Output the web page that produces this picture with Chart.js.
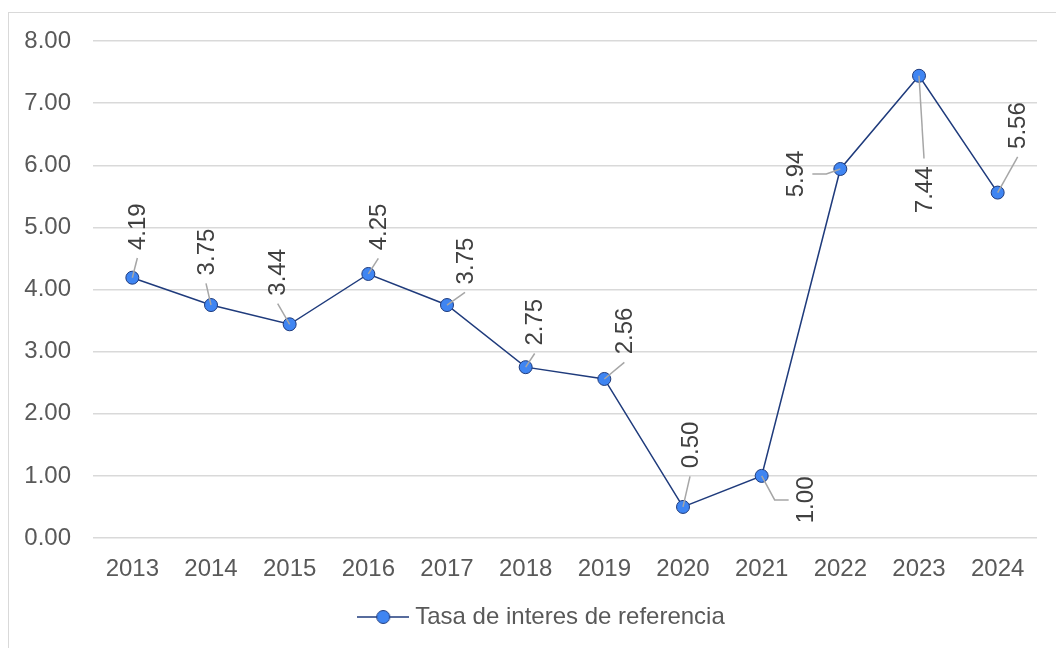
<!DOCTYPE html>
<html>
<head>
<meta charset="utf-8">
<script src="https://cdn.jsdelivr.net/npm/chart.js@4.4.1/dist/chart.umd.min.js"></script>
<style>
  html, body { margin: 0; padding: 0; background: #fff; overflow: hidden; }
  #frame { position: absolute; left: 8px; top: 12px; width: 1200px; height: 800px; border: 1px solid #d9d9d9; }
  #chartContainer { position: absolute; left: 0; top: 0; width: 1056px; height: 648px; }
</style>
</head>
<body>
<div id="frame"></div>
<div id="chartContainer"><canvas id="rateChart"></canvas></div>
<script>
const years = ['2013', '2014', '2015', '2016', '2017', '2018', '2019', '2020', '2021', '2022', '2023', '2024'];
const rates = [4.19, 3.75, 3.44, 4.25, 3.75, 2.75, 2.56, 0.50, 1.00, 5.94, 7.44, 5.56];
const seriesName = 'Tasa de interes de referencia';

// where each value label sits, relative to its point (px)
const labelShift = [
  [5, -51], [-5, -53], [-12, -52], [10, -47], [18, -44], [9, -45],
  [20, -48], [7, -62], [44, 24], [-45, 5], [5, 114], [20, -67]
];

const FONT = '"Liberation Sans", Arial, sans-serif';
const lineColor = '#1f3b7c';
const pointFill = '#3f85f2';

// legend icon: line with a marker in the middle
const legendIcon = document.createElement('canvas');
legendIcon.width = 52;
legendIcon.height = 16;
(() => {
  const c = legendIcon.getContext('2d');
  c.strokeStyle = lineColor;
  c.lineWidth = 1.5;
  c.beginPath();
  c.moveTo(0, 8);
  c.lineTo(52, 8);
  c.stroke();
  c.beginPath();
  c.arc(26, 8, 6.5, 0, Math.PI * 2);
  c.fillStyle = pointFill;
  c.fill();
  c.lineWidth = 1;
  c.stroke();
})();

// the legend is centred on the whole frame, not on the plot
const legendShift = {
  id: 'legendShift',
  afterLayout(chart) {
    chart.legend.left += 31;
  }
};

const valueLabels = {
  id: 'valueLabels',
  afterDatasetsDraw(chart) {
    const ctx = chart.ctx;
    const pts = chart.getDatasetMeta(0).data;
    ctx.save();
    ctx.font = '24px ' + FONT;
    pts.forEach((pt, i) => {
      const text = rates[i].toFixed(2);
      const w = ctx.measureText(text).width;
      const dx = labelShift[i][0];
      const dy = labelShift[i][1];
      const cx = pt.x + dx;
      const cy = pt.y + dy;
      const gap = 8;

      // leader line
      ctx.strokeStyle = '#a6a6a6';
      ctx.lineWidth = 1.5;
      ctx.beginPath();
      ctx.moveTo(pt.x, pt.y);
      if (Math.abs(dx) > 20) {
        const s = dx > 0 ? -1 : 1;
        const ex = cx + s * (9 + gap);
        ctx.lineTo(ex + s * 14, cy);
        ctx.lineTo(ex, cy);
      } else {
        const s = dy > 0 ? -1 : 1;
        ctx.lineTo(cx, cy + s * (w / 2 + gap));
      }
      ctx.stroke();

      // rotated text
      ctx.save();
      ctx.translate(cx, cy);
      ctx.rotate(-Math.PI / 2);
      ctx.fillStyle = '#404040';
      ctx.textAlign = 'center';
      ctx.textBaseline = 'middle';
      ctx.fillText(text, 0, 1);
      ctx.restore();
    });
    ctx.restore();
  }
};

const ctx = document.getElementById('rateChart').getContext('2d');
new Chart(ctx, {
  type: 'line',
  data: {
    labels: years,
    datasets: [{
      label: seriesName,
      data: rates,
      borderColor: lineColor,
      borderWidth: 1.5,
      backgroundColor: pointFill,
      pointBackgroundColor: pointFill,
      pointBorderColor: lineColor,
      pointBorderWidth: 1,
      pointRadius: 6.5,
      pointHoverRadius: 6.5,
      tension: 0,
      clip: false
    }]
  },
  options: {
    responsive: true,
    maintainAspectRatio: false,
    animation: false,
    layout: { padding: { left: 20, right: 19, top: 41, bottom: 9 } },
    scales: {
      x: {
        offset: true,
        grid: { display: false },
        border: { display: false },
        ticks: { color: '#595959', font: { family: FONT, size: 24 }, padding: 9, maxRotation: 0 },
        afterFit: (scale) => { scale.height = 57; }
      },
      y: {
        min: 0,
        max: 8,
        grid: { color: '#d9d9d9', lineWidth: 1.5, drawTicks: false },
        border: { display: false },
        ticks: {
          stepSize: 1,
          color: '#595959',
          font: { family: FONT, size: 24 },
          padding: 22,
          callback: (v) => Number(v).toFixed(2)
        },
        afterFit: (scale) => { scale.width = 73; }
      }
    },
    plugins: {
      tooltip: { enabled: false },
      legend: {
        position: 'bottom',
        labels: {
          usePointStyle: true,
          pointStyleWidth: 40,
          color: '#595959',
          font: { family: FONT, size: 24 },
          generateLabels: (chart) => {
            const items = Chart.defaults.plugins.legend.labels.generateLabels(chart);
            items.forEach((it) => { it.pointStyle = legendIcon; });
            return items;
          }
        }
      }
    }
  },
  plugins: [legendShift, valueLabels]
});
</script>
</body>
</html>
